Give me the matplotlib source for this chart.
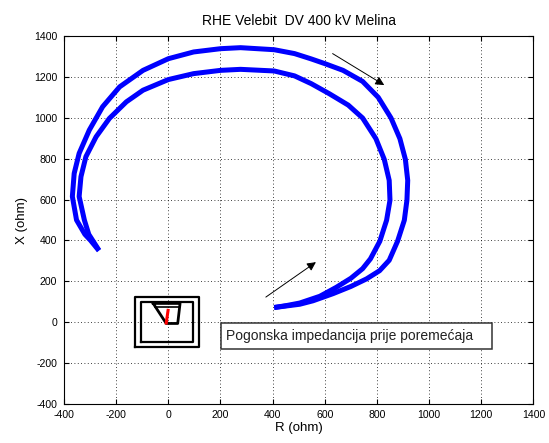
import matplotlib
matplotlib.use('Agg')
import matplotlib.pyplot as plt
from matplotlib.patches import Rectangle

plt.rcParams['font.family'] = ['Liberation Sans', 'DejaVu Sans']
plt.rcParams['axes.unicode_minus'] = False

# impedance trajectory, first swing (outer loop)
r_outer = [406, 455, 504, 555, 632, 700, 760, 810, 847, 879, 905, 915, 918, 909,
           888, 854, 805, 745, 670, 600, 548, 484, 406, 277, 200, 97, 0, -97,
           -187, -252, -303, -342, -361, -368, -352, -320, -298, -266]
x_outer = [72, 80, 88, 105, 140, 175, 212, 252, 303, 396, 499, 597, 694, 797,
           898, 999, 1100, 1178, 1232, 1265, 1288, 1314, 1333, 1343, 1338, 1322,
           1289, 1232, 1151, 1054, 940, 826, 728, 615, 500, 430, 400, 350]

# second swing (inner loop)
r_inner = [406, 455, 504, 581, 643, 700, 745, 775, 811, 837, 850, 847, 828, 796,
           745, 690, 617, 548, 484, 406, 277, 200, 97, 0, -97, -161, -226, -277,
           -316, -335, -342, -322, -305, -290, -266]
x_inner = [72, 82, 94, 127, 170, 215, 262, 310, 396, 499, 597, 694, 797, 898,
           999, 1062, 1118, 1167, 1205, 1229, 1237, 1232, 1216, 1187, 1135, 1078,
           997, 907, 810, 712, 615, 500, 430, 400, 352]

# relay zone characteristics near the origin
box1_r = [-128, 118, 118, -128, -128]
box1_x = [-120, -120, 123, 123, -120]
box2_r = [-106, 95, 95, -106, -106]
box2_x = [-96, -96, 99, 99, -96]
zone_r = [-58, 45, 36, -8, -58]
zone_x = [92, 92, -6, -6, 92]
zone2_r = [-50, 42]
zone2_x = [76, 76]
line_r = [-8, -1]
line_x = [-4, 58]

fig = plt.figure(figsize=(5.49, 4.43), dpi=100)
ax = fig.add_axes([0.1166, 0.088, 0.855, 0.8307])

for r, x in ((r_outer, x_outer), (r_inner, x_inner)):
    ax.plot(r, x, color='b', lw=3.6, solid_capstyle='butt',
            solid_joinstyle='round')

ax.plot(box1_r, box1_x, color='k', lw=1.6)
ax.plot(box2_r, box2_x, color='k', lw=1.6)
ax.plot(zone_r, zone_x, color='k', lw=2)
ax.plot(zone2_r, zone2_x, color='k', lw=1.2)
ax.plot(line_r, line_x, color='r', lw=2.2)

# direction of motion
arrow = dict(arrowstyle='-|>', color='k', lw=0.7, mutation_scale=13,
             shrinkA=0, shrinkB=0)
ax.annotate('', xy=(828, 1160), xytext=(630, 1314), arrowprops=arrow)
ax.annotate('', xy=(566, 294), xytext=(374, 123), arrowprops=arrow)

ax.add_patch(Rectangle((201, -133), 1040, 127, fill=True, facecolor='white',
                       edgecolor='#333333', lw=1.1, zorder=4))
ax.text(220, -68, 'Pogonska impedancija prije poremećaja', fontsize=10,
        va='center', ha='left', color='#222222', zorder=5)

ax.set_xlim(-400, 1400)
ax.set_ylim(-400, 1400)
ax.set_xticks(range(-400, 1401, 200))
ax.set_yticks(range(-400, 1401, 200))
ax.grid(True, color='k', linestyle=(0, (1, 3)), lw=0.6)
ax.tick_params(direction='in', length=3.5, top=True, right=True,
               labelsize=7.6, pad=4)
ax.tick_params(axis='y', pad=5)

ax.set_title('RHE Velebit  DV 400 kV Melina', fontsize=10, pad=8)
ax.set_xlabel('R (ohm)', fontsize=9.5, labelpad=2)
ax.set_ylabel('X (ohm)', fontsize=9.5, labelpad=4)

fig.savefig('out.png', dpi=100)
